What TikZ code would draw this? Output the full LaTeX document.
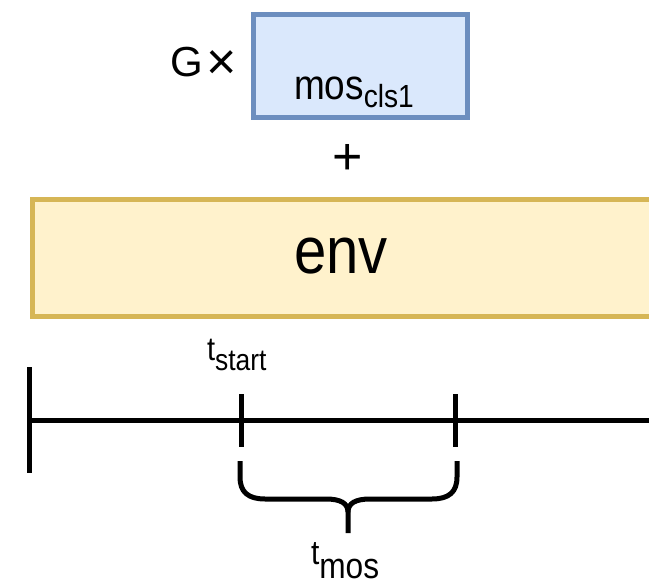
\documentclass[tikz,border=0pt]{standalone}
\usepackage{fontspec}
\setmainfont{Liberation Sans}
\definecolor{bluefill}{HTML}{DAE8FC}
\definecolor{blueline}{HTML}{6C8EBF}
\definecolor{envfill}{HTML}{FFF2CC}
\definecolor{envline}{HTML}{D6B656}
\newcommand{\fs}[1]{\fontsize{#1}{#1}\selectfont}
\newcommand{\mysubtxt}[3]{\raisebox{-#1pt}{\fs{#2}#3}}
\newcommand{\narrow}[1]{\scalebox{0.88}[1]{#1}}
\tikzset{
  boxstyle/.style={line width=5pt},
  txt/.style={inner sep=0pt, outer sep=0pt, text=black},
  tl/.style={line width=5pt, black},
  brace/.style={line width=5pt, black, line join=round},
}
\begin{document}
\begin{tikzpicture}[x=1pt, y=-1pt]
\useasboundingbox (0,0) rectangle (649,586);
\clip (0,0) rectangle (649,586);
% blue box
\node[boxstyle, draw=blueline, fill=bluefill, minimum width=214pt, minimum height=103.5pt, inner sep=0pt, anchor=north west] (mosbox) at (250.5,12) {};
\node[txt, anchor=base west] (mostxt) at (294,100) {\narrow{\fs{42}mos\mysubtxt{8}{32}{cls1}}};
\node[txt, anchor=base west] (g) at (170,77) {\fs{42}G\hspace{4pt}\raisebox{-3pt}{\fs{52}×}};
% plus
\node[txt] (plus) at (348,159) {\fs{52}+};
% env box
\node[boxstyle, draw=envline, fill=envfill, minimum width=680pt, minimum height=117pt, inner sep=0pt, anchor=north west] (envbox) at (29.5,196.5) {};
\node[txt, anchor=base] (envtxt) at (341,273) {\narrow{\fs{66}env}};
% timeline
\coordinate (t0) at (29.5,420.5);
\coordinate (tend) at (660,420.5);
\draw[tl] (t0) -- (tend);
\draw[tl] (29.5,367) -- (29.5,473);
\draw[tl] (241,394) -- (241,447);
\draw[tl] (455,394) -- (455,447);
\node[txt, anchor=base west] (tstart) at (207,360) {\narrow{\fs{33}t\mysubtxt{10}{30}{start}}};
% brace
\draw[brace] (240,461) -- (240,477) .. controls (240,492) and (248,499) .. (265,499)
  -- (326,499) .. controls (340,499) and (348,503) .. (348,512) -- (348,533);
\draw[brace] (457,461) -- (457,477) .. controls (457,492) and (449,499) .. (432,499)
  -- (370,499) .. controls (356,499) and (348,503) .. (348,512);
\node[txt, anchor=base west] (tmos) at (311,564) {\narrow{\fs{34}t\mysubtxt{14}{36}{mos}}};
\end{tikzpicture}
\end{document}
